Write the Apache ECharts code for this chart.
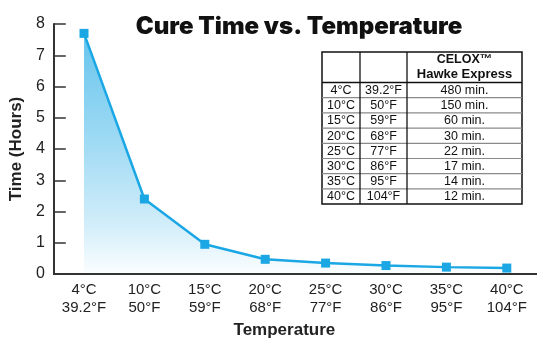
<!DOCTYPE html>
<html>
<head>
<meta charset="utf-8">
<script src="https://cdn.jsdelivr.net/npm/echarts@6/dist/echarts.min.js"></script>
<style>html,body{margin:0;padding:0;background:#fff;}#c{width:537px;height:352px;}</style>
</head>
<body>
<div id="c"></div>
<script>
const categoriesC = ['4°C', '10°C', '15°C', '20°C', '25°C', '30°C', '35°C', '40°C'];
const categoriesF = ['39.2°F', '50°F', '59°F', '68°F', '77°F', '86°F', '95°F', '104°F'];
const cureHours = [7.7, 2.4, 0.95, 0.47, 0.35, 0.27, 0.22, 0.19];
const yTicks = [0, 1, 2, 3, 4, 5, 6, 7, 8];
const tableHeader = ['', '', 'CELOX™', 'Hawke Express'];
const tableC = ['4°C', '10°C', '15°C', '20°C', '25°C', '30°C', '35°C', '40°C'];
const tableF = ['39.2°F', '50°F', '59°F', '68°F', '77°F', '86°F', '95°F', '104°F'];
const tableMin = ['480 min.', '150 min.', '60 min.', '30 min.', '22 min.', '17 min.', '14 min.', '12 min.'];

const FONT = '"Liberation Sans", Arial, Helvetica, sans-serif';
const TITLE_FONT = 'Inter, "Liberation Sans", Arial, sans-serif';
const BLUE = '#1aa7e4';

// table geometry
const tX = [322, 360, 407, 522];
const tTop = 52, headH = 30.5, rowH = 15.2;
const tBottom = tTop + headH + rowH * tableC.length;
const tableEls = [];
tableEls.push({type:'rect', shape:{x:tX[0], y:tTop, width:tX[3]-tX[0], height:tBottom-tTop}, style:{fill:'#fff', stroke:'#111', lineWidth:1.5}, z:10});
for (let i = 1; i < tableC.length; i++) {
  const y = tTop + headH + rowH * i;
  tableEls.push({type:'line', shape:{x1:tX[0], y1:y, x2:tX[3], y2:y}, style:{stroke:'#8a8a8a', lineWidth:1.2}, z:11});
}
tableEls.push({type:'line', shape:{x1:tX[0], y1:tTop+headH, x2:tX[3], y2:tTop+headH}, style:{stroke:'#111', lineWidth:1.3}, z:12});
[tX[1], tX[2]].forEach(x => tableEls.push({type:'line', shape:{x1:x, y1:tTop, x2:x, y2:tBottom}, style:{stroke:'#111', lineWidth:1.3}, z:12}));
const c3 = (tX[2] + tX[3]) / 2;
tableEls.push({type:'text', x:c3, y:tTop+8, style:{text:tableHeader[2], font:'bold 12.5px ' + FONT, fill:'#111', align:'center', verticalAlign:'middle'}, z:13});
tableEls.push({type:'text', x:c3, y:tTop+22.5, style:{text:tableHeader[3], font:'bold 13px ' + FONT, fill:'#111', align:'center', verticalAlign:'middle'}, z:13});
for (let i = 0; i < tableC.length; i++) {
  const yc = tTop + headH + rowH * i + rowH / 2 + 0.5;
  const cols = [tableC[i], tableF[i], tableMin[i]];
  cols.forEach((t, j) => {
    tableEls.push({type:'text', x:(tX[j] + tX[j+1]) / 2, y:yc, style:{text:t, font:'12.5px ' + FONT, fill:'#111', align:'center', verticalAlign:'middle'}, z:13});
  });
}

const chart = echarts.init(document.getElementById('c'), null, {renderer:'canvas'});
chart.setOption({
  backgroundColor:'#fff',
  animation:false,
  title:{
    text:'Cure Time vs. Temperature',
    left:294, top:10, textAlign:'center',
    textStyle:{fontFamily:TITLE_FONT, fontSize:24, fontWeight:900, color:'#111'}
  },
  grid:{left:49, right:0, top:24, bottom:78, containLabel:false},
  xAxis:{
    type:'category',
    data:categoriesC.map((c, i) => c + '\n' + categoriesF[i]),
    boundaryGap:true,
    name:'Temperature', nameLocation:'middle', nameGap:44,
    nameTextStyle:{fontFamily:FONT, fontSize:17, fontWeight:'bold', color:'#222', padding:[0, 22, 0, 0]},
    axisLine:{lineStyle:{color:'#333', width:2}},
    axisTick:{inside:true, length:6, lineStyle:{color:'#333', width:1.5}},
    axisLabel:{fontFamily:FONT, fontSize:15, color:'#222', lineHeight:18, margin:7}
  },
  yAxis:{
    type:'value', min:yTicks[0], max:yTicks[yTicks.length-1], interval:1,
    name:'Time (Hours)', nameLocation:'middle', nameGap:28,
    nameTextStyle:{fontFamily:FONT, fontSize:17, fontWeight:'bold', color:'#222'},
    axisLine:{show:true, lineStyle:{color:'#333', width:2}},
    axisTick:{show:true, inside:true, length:12, lineStyle:{color:'#333', width:1.5}},
    axisLabel:{fontFamily:FONT, fontSize:16, color:'#222', margin:9},
    splitLine:{show:false}
  },
  series:[{
    type:'line',
    data:cureHours,
    symbol:'rect', symbolSize:9,
    itemStyle:{color:BLUE},
    lineStyle:{color:BLUE, width:2.5},
    areaStyle:{
      color:new echarts.graphic.LinearGradient(0, 0, 0, 1, [
        {offset:0, color:'rgba(26,167,228,0.95)'},
        {offset:0.45, color:'rgba(26,167,228,0.6)'},
        {offset:0.8, color:'rgba(26,167,228,0.28)'},
        {offset:1, color:'rgba(26,167,228,0.02)'}
      ])
    },
    z:3
  }],
  graphic:tableEls
});
</script>
</body>
</html>
